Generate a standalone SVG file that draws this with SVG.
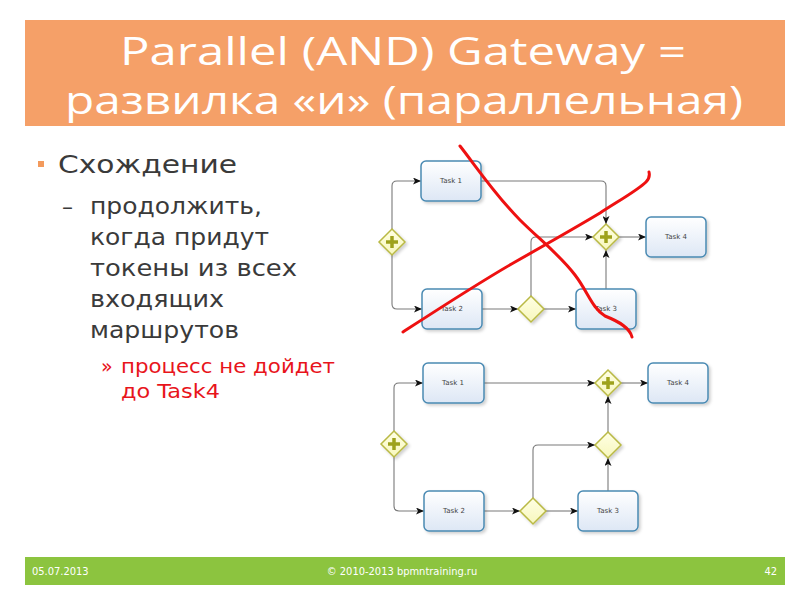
<svg xmlns="http://www.w3.org/2000/svg" width="800" height="600" viewBox="0 0 800 600">
<style>
.title{font-family:"Open Sans","DejaVu Sans",sans-serif;font-size:38px;fill:#ffffff}
.body{font-family:"DejaVu Sans","Liberation Sans",sans-serif;fill:#3a3a3a}
.red{font-family:"DejaVu Sans","Liberation Sans",sans-serif;fill:#e8141b;font-size:19px}
.foot{font-family:"DejaVu Sans Condensed","DejaVu Sans",sans-serif;font-size:11px;fill:#ffffff}
.task rect{fill:url(#tg);stroke:#4a8ab3;stroke-width:1.5;filter:url(#sh)}
.task text{font-family:"DejaVu Sans",sans-serif;font-size:7px;fill:#444;text-anchor:middle}
.gw path.d{fill:url(#gg);stroke:#b9b945;stroke-width:1.5;filter:url(#sh)}
.gw path.p{stroke:#9ea21c;stroke-width:3.5;fill:none}
.conn path{fill:none;stroke:#7a7a7a;stroke-width:1.1}
.conn path.a{marker-end:url(#ar)}
.cross path{fill:none;stroke:#ee1111;stroke-width:3;stroke-linecap:round;stroke-linejoin:round}
</style>
<defs>
<linearGradient id="tg" x1="0" y1="0" x2="0" y2="1"><stop offset="0" stop-color="#ffffff"/><stop offset="1" stop-color="#dde7f5"/></linearGradient>
<linearGradient id="gg" x1="0" y1="0" x2="0" y2="1"><stop offset="0" stop-color="#ffffe4"/><stop offset="1" stop-color="#f7f7bd"/></linearGradient>
<filter id="sh" x="-20%" y="-20%" width="150%" height="150%"><feDropShadow dx="2" dy="2" stdDeviation="1.5" flood-color="#000" flood-opacity="0.18"/></filter>
<marker id="ar" viewBox="0 0 8 7" refX="8" refY="3.5" markerWidth="8" markerHeight="7" markerUnits="userSpaceOnUse" orient="auto"><path d="M0,0 L8,3.5 L0,7 L2,3.5 z" fill="#111"/></marker>
</defs>
<rect width="800" height="600" fill="#ffffff"/>
<g id="header">
<rect x="25" y="20" width="760" height="106" fill="#f5a068"/>
<text class="title" x="403" y="65" text-anchor="middle" textLength="566" lengthAdjust="spacingAndGlyphs">Parallel (AND) Gateway =</text>
<text class="title" x="404" y="114" text-anchor="middle" textLength="678" lengthAdjust="spacingAndGlyphs">развилка «и» (параллельная)</text>
</g>
<g id="text">
<rect x="38" y="161" width="6" height="6" fill="#f39a5c"/>
<text class="body" x="58" y="173" font-size="25" textLength="179" lengthAdjust="spacingAndGlyphs">Схождение</text>
<text class="body" x="62" y="214" font-size="22">–</text>
<text class="body" x="90" y="214" font-size="23" textLength="172" lengthAdjust="spacingAndGlyphs">продолжить,</text>
<text class="body" x="90" y="245" font-size="23" textLength="179" lengthAdjust="spacingAndGlyphs">когда придут</text>
<text class="body" x="90" y="276" font-size="23" textLength="207" lengthAdjust="spacingAndGlyphs">токены из всех</text>
<text class="body" x="90" y="307" font-size="23" textLength="134" lengthAdjust="spacingAndGlyphs">входящих</text>
<text class="body" x="90" y="338" font-size="23" textLength="149" lengthAdjust="spacingAndGlyphs">маршрутов</text>
<text class="red" x="101" y="373">»</text>
<text class="red" x="121" y="373" textLength="214" lengthAdjust="spacingAndGlyphs">процесс не дойдет</text>
<text class="red" x="121" y="398" textLength="99" lengthAdjust="spacingAndGlyphs">до Task4</text>
</g>
<g id="connectors" class="conn">
<path class="a" d="M392,229 V186 Q392,181 397,181 H421"/>
<path class="a" d="M392,255 V304 Q392,309 397,309 H422"/>
<path class="a" d="M481,181 H601 Q606,181 606,186 V224"/>
<path class="a" d="M482,309 H518"/>
<path class="a" d="M544,309 H576"/>
<path class="a" d="M531,296 V242 Q531,237 536,237 H593"/>
<path class="a" d="M606,289 V250"/>
<path class="a" d="M619,237 H646"/>
<path class="a" d="M394,431 V388 Q394,383 399,383 H423"/>
<path class="a" d="M394,457 V506 Q394,511 399,511 H424"/>
<path class="a" d="M484,383 H595"/>
<path class="a" d="M621,383 H648"/>
<path class="a" d="M484,511 H520"/>
<path class="a" d="M546,511 H578"/>
<path class="a" d="M533,498 V450 Q533,445 538,445 H595"/>
<path class="a" d="M608,492 V458"/>
<path class="a" d="M608,432 V396"/>
</g>
<g id="t1a" class="task"><rect x="421" y="161" width="60" height="40" rx="5"/><text x="451" y="183">Task 1</text></g>
<g id="t2a" class="task"><rect x="422" y="289" width="60" height="40" rx="5"/><text x="452" y="311">Task 2</text></g>
<g id="t3a" class="task"><rect x="576" y="289" width="60" height="40" rx="5"/><text x="606" y="311">Task 3</text></g>
<g id="t4a" class="task"><rect x="646" y="217" width="60" height="40" rx="5"/><text x="676" y="239">Task 4</text></g>
<g id="g1a" class="gw"><path class="d" d="M392,229 L405,242 L392,255 L379,242 z"/><path class="p" d="M386,242 H398 M392,236 V248"/></g>
<g id="g2a" class="gw"><path class="d" d="M531,296 L544,309 L531,322 L518,309 z"/></g>
<g id="g3a" class="gw"><path class="d" d="M606,224 L619,237 L606,250 L593,237 z"/><path class="p" d="M600,237 H612 M606,231 V243"/></g>
<g id="t1b" class="task"><rect x="423" y="363" width="61" height="40" rx="5"/><text x="453" y="385">Task 1</text></g>
<g id="t2b" class="task"><rect x="424" y="491" width="60" height="40" rx="5"/><text x="454" y="513">Task 2</text></g>
<g id="t3b" class="task"><rect x="578" y="491" width="60" height="40" rx="5"/><text x="608" y="513">Task 3</text></g>
<g id="t4b" class="task"><rect x="648" y="363" width="60" height="40" rx="5"/><text x="678" y="385">Task 4</text></g>
<g id="g1b" class="gw"><path class="d" d="M394,431 L407,444 L394,457 L381,444 z"/><path class="p" d="M388,444 H400 M394,438 V450"/></g>
<g id="g2b" class="gw"><path class="d" d="M533,498 L546,511 L533,524 L520,511 z"/></g>
<g id="g3b" class="gw"><path class="d" d="M608,432 L621,445 L608,458 L595,445 z"/></g>
<g id="g4b" class="gw"><path class="d" d="M608,370 L621,383 L608,396 L595,383 z"/><path class="p" d="M602,383 H614 M608,377 V389"/></g>
<g id="cross" class="cross">
<path d="M460,146 C475,165 495,195 520,220 C540,240 560,255 575,275 C588,292 592,308 605,316 C620,322 630,328 632,337"/>
<path d="M403,332 C440,308 480,282 515,262 C545,245 575,228 600,213 C620,200 638,190 646,182 C649,179 650,176 649,172"/>
</g>
<g id="footer">
<rect x="25" y="557" width="760" height="28" fill="#8cc43f"/>
<text class="foot" x="32" y="575">05.07.2013</text>
<text class="foot" x="402" y="575" text-anchor="middle">© 2010-2013 bpmntraining.ru</text>
<text class="foot" x="777" y="575" text-anchor="end">42</text>
</g>
</svg>
